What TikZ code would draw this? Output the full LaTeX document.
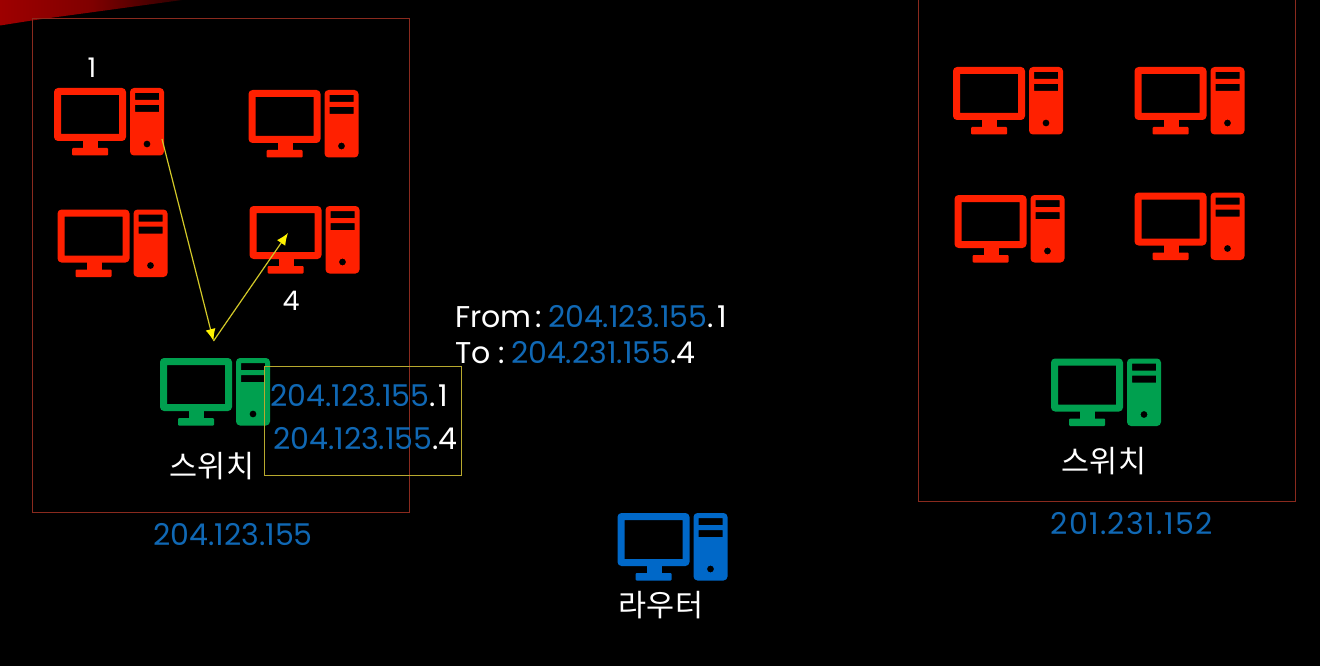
\documentclass[tikz,border=0pt]{standalone}
\usepackage{fontspec}
\setmainfont{Poppins}
\newfontfamily\krfont{Noto Sans CJK KR}
\usetikzlibrary{arrows.meta}
\definecolor{pcred}{HTML}{FF2000}
\definecolor{pcgreen}{HTML}{00A04F}
\definecolor{pcblue}{HTML}{0068C8}
\definecolor{ipblue}{HTML}{1068B4}
\definecolor{frame}{HTML}{8A2A1E}
\definecolor{ybox}{HTML}{B8A92E}
\definecolor{arrowy}{HTML}{D2C828}
\newcommand{\ipb}[1]{\textcolor{ipblue}{#1}}
\tikzset{
  x=1pt,y=-1pt,
  pcicon/.pic={
    \fill[even odd rule,pic actions]
      (0,0) [rounded corners=4] rectangle (72,53)
      [sharp corners] (7,7) rectangle (65,46);
    \fill[pic actions] (29,52) rectangle (44,61);
    \fill[pic actions,rounded corners=1] (18,60) rectangle (54,67.5);
    \fill[even odd rule,pic actions]
      (76,0) [rounded corners=4] rectangle (110,67.5)
      [sharp corners] (81,5) rectangle (105,12)
      (81,17) rectangle (105,24)
      (93,56) circle [radius=3.5];
  },
  netbox/.style={draw=frame,line width=1pt},
  addrbox/.style={draw=ybox,line width=1.2pt},
  lbl/.style={text=white,font=\fontsize{#1}{#1}\selectfont,inner sep=0pt},
  lbl/.default=25,
  krlbl/.style={text=white,font=\krfont\fontsize{30.5}{30.5}\selectfont,inner sep=0pt},
  flow/.style={draw=arrowy,line width=1.2pt,-{Latex[length=12pt,width=10pt,color=yellow]}},
}
\begin{document}
\begin{tikzpicture}
\useasboundingbox (0,0) rectangle (1320,666);
\fill[black] (0,0) rectangle (1320,666);
\shade[left color=red!62!black,right color=red!18!black,middle color=red!50!black]
  (0,0) -- (182,0) -- (35,20) -- (0,25.5) -- cycle;
\node[netbox,minimum width=377,minimum height=494,anchor=north west,inner sep=0pt] (netA) at (32,18) {};
\node[netbox,minimum width=377,minimum height=503,anchor=north west,inner sep=0pt] (netB) at (918,-2) {};
\pic[fill=pcred] at (54,88) {pcicon};
\pic[fill=pcred] at (248.5,90) {pcicon};
\pic[fill=pcred] at (57.5,209.5) {pcicon};
\pic[fill=pcred] at (249.5,206) {pcicon};
\pic[fill=pcred] at (953,67) {pcicon};
\pic[fill=pcred] at (1134.5,67) {pcicon};
\pic[fill=pcred] at (954.5,195) {pcicon};
\pic[fill=pcred] at (1134.5,192.5) {pcicon};
\pic[fill=pcgreen] at (160,358) {pcicon};
\pic[fill=pcgreen] at (1051,358.5) {pcicon};
\pic[fill=pcblue] at (617.5,513) {pcicon};
\coordinate (pcone) at (162,139);
\coordinate (sw) at (213.5,341);
\coordinate (pcfour) at (288,233);
\draw[flow] (pcone) -- (sw);
\draw[flow] (sw) -- (pcfour);
\node[addrbox,minimum width=197,minimum height=109,anchor=north west,inner sep=0pt] (addr) at (264,366) {};
\node[lbl=27] (n1) at (92,68) {1};
\node[lbl=27] (n4) at (291,301) {4};
\node[lbl=30,anchor=west] (a1) at (270,396) {\ipb{204.123.155}.\hspace{3pt}1};
\node[lbl=30,anchor=west] (a2) at (273,439) {\ipb{204.123.155}.4};
\node[krlbl] (s1) at (212,466) {스위치};
\node[krlbl] (s2) at (1104,461) {스위치};
\node[krlbl] (r) at (661,605) {라우터};
\node[lbl=30] (neta) at (233,535) {\ipb{204.123.155}};
\node[lbl=30] (netb) at (1131.5,524) {\addfontfeature{LetterSpace=4.5}\ipb{201.231.152}};
\node[lbl=30,anchor=west] (from) at (455,317) {From\hspace{4pt}:\hspace{6pt}\ipb{204.123.155}.\hspace{4pt}1};
\node[lbl=30,anchor=west] (to) at (455,353) {To\hspace{8pt}:\hspace{6pt}\ipb{204.231.155}.4};
\end{tikzpicture}
\end{document}
